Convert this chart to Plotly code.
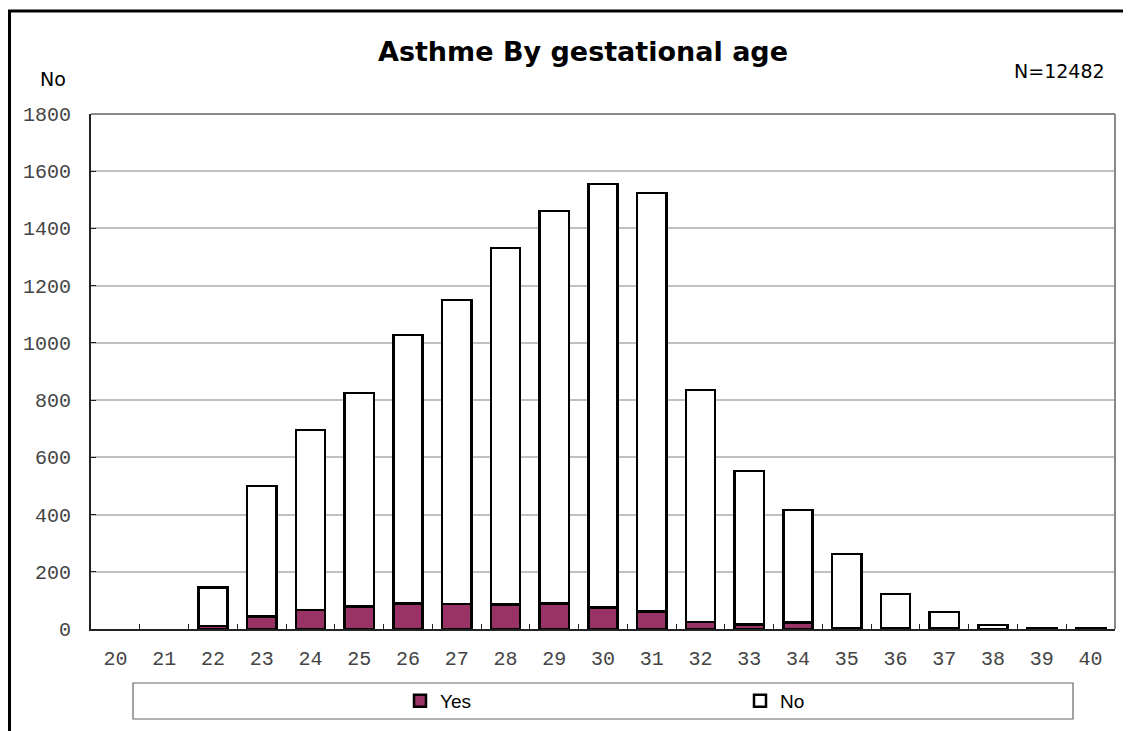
import plotly.graph_objects as go

weeks = [str(w) for w in range(20, 41)]
yes_counts = [None, None, 10, 43, 66, 78, 90, 87, 85, 90, 76, 62, 24, 16, 22, 2, 2, 1, 0, 1, 1]
no_counts = [None, None, 135, 457, 629, 747, 938, 1063, 1247, 1371, 1479, 1462, 811, 536, 394, 260, 120, 58, 14, 2, 2]
y_ticks = [0, 200, 400, 600, 800, 1000, 1200, 1400, 1600, 1800]

# page has an 8px body margin; figure is sized so the page coordinates match
OFF = 8
W, H = 1123, 723
L, R, T, B = 83, 16, 106, 102
PW, PH = W - L - R, H - T - B


def px(x):
    # page x -> paper x
    return (x - OFF - L) / PW


def py(y):
    # page y -> paper y
    return (H - B - (y - OFF)) / PH


fig = go.Figure()
fig.add_trace(go.Bar(x=weeks, y=yes_counts, name="Yes",
                     marker=dict(color="#993366", line=dict(color="black", width=2.5))))
fig.add_trace(go.Bar(x=weeks, y=no_counts, name="No",
                     marker=dict(color="white", line=dict(color="black", width=2.5))))

tick_font = dict(family="Liberation Mono, Courier New, monospace", size=20, color="#444444")

fig.update_layout(
    width=W, height=H,
    margin=dict(l=L, r=R, t=T, b=B, autoexpand=False),
    paper_bgcolor="white", plot_bgcolor="white",
    barmode="stack", bargap=0.4,
    showlegend=True,
    legend=dict(orientation="h", x=px(400), y=py(701), xanchor="left", yanchor="middle",
                entrywidth=295, entrywidthmode="pixels", traceorder="normal",
                font=dict(family="Liberation Sans Narrow, Arial Narrow, Liberation Sans, sans-serif",
                          size=19, color="black"),
                bgcolor="rgba(0,0,0,0)", itemwidth=30),
    xaxis=dict(type="category", range=[-0.5, 20.5], showline=True, linecolor="#222222",
               linewidth=2, ticks="inside", tickson="boundaries", ticklen=5,
               tickcolor="#222222", tickwidth=1, showgrid=False, tickfont=tick_font,
               ticklabelstandoff=10, fixedrange=True, automargin=False),
    yaxis=dict(range=[0, 1800], tickvals=y_ticks, showline=True, linecolor="#222222",
               linewidth=2, ticks="inside", ticklen=5, tickcolor="#222222",
               showgrid=True, gridcolor="#c0c0c0", gridwidth=1.5, zeroline=False,
               tickfont=tick_font, ticklabelstandoff=14, fixedrange=True, automargin=False),
    title=dict(text="<b>Asthme By gestational age</b>", x=px(583), xanchor="center",
               xref="paper", y=1 - (52 - OFF) / H, yanchor="middle",
               font=dict(family="DejaVu Sans, Verdana, sans-serif", size=27, color="black")),
)

# plot-area top and right border (gray)
fig.add_shape(type="line", xref="paper", yref="paper", x0=0, x1=1, y0=1, y1=1,
              line=dict(color="#888888", width=2))
fig.add_shape(type="line", xref="paper", yref="paper", x0=1, x1=1, y0=0, y1=1,
              line=dict(color="#888888", width=2))
# legend box
fig.add_shape(type="rect", xref="paper", yref="paper", x0=px(133), x1=px(1073),
              y0=py(719), y1=py(683), line=dict(color="#666666", width=1.2))
# outer chart border (only top and left visible)
fig.add_shape(type="rect", xref="paper", yref="paper", x0=px(9.5), x1=px(1200),
              y0=py(800), y1=py(11), line=dict(color="black", width=3))

fig.add_annotation(text="No", xref="paper", yref="paper", x=px(53), y=py(79),
                   showarrow=False, xanchor="center", yanchor="middle",
                   font=dict(family="DejaVu Sans, Tahoma, sans-serif", size=19, color="black"))
fig.add_annotation(text="N=12482", xref="paper", yref="paper", x=px(1107), y=py(71),
                   showarrow=False, xanchor="right", yanchor="middle",
                   font=dict(family="DejaVu Sans, Tahoma, sans-serif", size=19, color="black"))

fig.write_html("out.html")
